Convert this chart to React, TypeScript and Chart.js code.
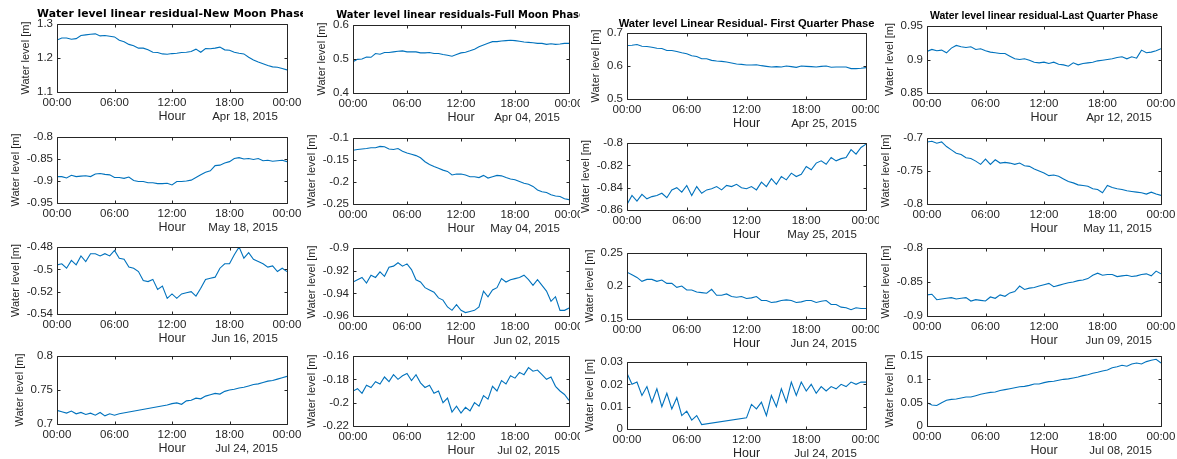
import React, { useEffect, useRef } from "react";
import { Chart, registerables } from "chart.js";
Chart.register(...registerables);

// ---------- data ----------
const HOURS = [0, 0.5, 1, 1.5, 2, 2.5, 3, 3.5, 4, 4.5, 5, 5.5, 6, 6.5, 7, 7.5, 8, 8.5, 9, 9.5, 10, 10.5, 11, 11.5, 12, 12.5, 13, 13.5, 14, 14.5, 15, 15.5, 16, 16.5, 17, 17.5, 18, 18.5, 19, 19.5, 20, 20.5, 21, 21.5, 22, 22.5, 23, 23.5, 24];

const NM_APR18 = [1.253, 1.259, 1.259, 1.255, 1.257, 1.266, 1.268, 1.27, 1.271, 1.265, 1.266, 1.264, 1.262, 1.252, 1.248, 1.24, 1.236, 1.229, 1.229, 1.224, 1.217, 1.216, 1.212, 1.211, 1.213, 1.214, 1.216, 1.217, 1.219, 1.226, 1.217, 1.228, 1.227, 1.229, 1.232, 1.224, 1.223, 1.217, 1.214, 1.212, 1.202, 1.194, 1.188, 1.183, 1.178, 1.174, 1.173, 1.169, 1.165];
const FM_APR04 = [0.492, 0.499, 0.5, 0.506, 0.505, 0.516, 0.514, 0.519, 0.519, 0.521, 0.523, 0.524, 0.521, 0.521, 0.521, 0.518, 0.518, 0.519, 0.516, 0.516, 0.513, 0.511, 0.508, 0.513, 0.518, 0.52, 0.524, 0.529, 0.536, 0.541, 0.546, 0.551, 0.551, 0.553, 0.554, 0.555, 0.554, 0.552, 0.55, 0.549, 0.548, 0.546, 0.546, 0.543, 0.545, 0.543, 0.544, 0.546, 0.546];
const FQ_APR25 = [0.662, 0.663, 0.665, 0.66, 0.659, 0.657, 0.654, 0.653, 0.647, 0.647, 0.644, 0.64, 0.637, 0.631, 0.629, 0.622, 0.622, 0.617, 0.615, 0.614, 0.612, 0.609, 0.606, 0.605, 0.603, 0.603, 0.604, 0.601, 0.599, 0.597, 0.598, 0.597, 0.6, 0.598, 0.596, 0.6, 0.599, 0.598, 0.597, 0.599, 0.6, 0.596, 0.597, 0.597, 0.597, 0.592, 0.592, 0.593, 0.595];
const LQ_APR12 = [0.912, 0.915, 0.913, 0.914, 0.91, 0.917, 0.921, 0.919, 0.918, 0.919, 0.915, 0.916, 0.913, 0.911, 0.91, 0.909, 0.909, 0.905, 0.901, 0.9, 0.901, 0.899, 0.896, 0.895, 0.896, 0.894, 0.896, 0.893, 0.892, 0.89, 0.895, 0.892, 0.894, 0.895, 0.896, 0.898, 0.899, 0.9, 0.901, 0.903, 0.904, 0.901, 0.904, 0.902, 0.914, 0.91, 0.911, 0.913, 0.916];

const NM_MAY18 = [-0.89, -0.89, -0.893, -0.887, -0.89, -0.889, -0.888, -0.89, -0.884, -0.883, -0.885, -0.886, -0.892, -0.892, -0.894, -0.891, -0.899, -0.901, -0.901, -0.904, -0.904, -0.906, -0.906, -0.905, -0.909, -0.901, -0.901, -0.9, -0.898, -0.892, -0.886, -0.88, -0.877, -0.865, -0.864, -0.859, -0.856, -0.849, -0.847, -0.85, -0.849, -0.851, -0.849, -0.854, -0.853, -0.855, -0.854, -0.853, -0.856];
const FM_MAY04 = [-0.128, -0.126, -0.125, -0.124, -0.122, -0.122, -0.119, -0.12, -0.125, -0.126, -0.124, -0.13, -0.134, -0.137, -0.14, -0.145, -0.154, -0.16, -0.165, -0.169, -0.173, -0.176, -0.184, -0.182, -0.182, -0.184, -0.188, -0.188, -0.19, -0.185, -0.191, -0.188, -0.185, -0.186, -0.19, -0.193, -0.195, -0.199, -0.203, -0.205, -0.21, -0.218, -0.222, -0.224, -0.229, -0.232, -0.233, -0.238, -0.24];
const FQ_MAY25 = [-0.855, -0.847, -0.852, -0.846, -0.85, -0.848, -0.847, -0.845, -0.849, -0.842, -0.84, -0.844, -0.838, -0.847, -0.839, -0.845, -0.842, -0.841, -0.839, -0.842, -0.838, -0.839, -0.837, -0.84, -0.841, -0.839, -0.842, -0.835, -0.839, -0.832, -0.837, -0.83, -0.833, -0.827, -0.83, -0.828, -0.821, -0.824, -0.818, -0.816, -0.819, -0.813, -0.816, -0.814, -0.813, -0.806, -0.81, -0.804, -0.801];
const LQ_MAY11 = [-0.706, -0.705, -0.708, -0.706, -0.713, -0.718, -0.723, -0.725, -0.73, -0.731, -0.735, -0.74, -0.732, -0.74, -0.733, -0.738, -0.737, -0.738, -0.74, -0.738, -0.742, -0.743, -0.747, -0.75, -0.753, -0.757, -0.756, -0.758, -0.762, -0.766, -0.768, -0.771, -0.772, -0.773, -0.777, -0.778, -0.783, -0.772, -0.775, -0.777, -0.778, -0.78, -0.781, -0.782, -0.783, -0.785, -0.782, -0.785, -0.787];

const NM_JUN16 = [-0.496, -0.495, -0.499, -0.492, -0.496, -0.488, -0.493, -0.486, -0.486, -0.488, -0.486, -0.488, -0.483, -0.49, -0.491, -0.498, -0.499, -0.502, -0.51, -0.511, -0.509, -0.518, -0.515, -0.526, -0.522, -0.526, -0.522, -0.521, -0.52, -0.524, -0.517, -0.509, -0.508, -0.507, -0.499, -0.495, -0.495, -0.487, -0.48, -0.49, -0.485, -0.491, -0.493, -0.495, -0.498, -0.497, -0.502, -0.499, -0.502];
const FM_JUN02 = [-0.93, -0.928, -0.926, -0.931, -0.924, -0.926, -0.921, -0.925, -0.917, -0.916, -0.913, -0.916, -0.914, -0.919, -0.928, -0.93, -0.935, -0.937, -0.939, -0.944, -0.946, -0.952, -0.955, -0.95, -0.955, -0.957, -0.956, -0.955, -0.952, -0.938, -0.943, -0.937, -0.935, -0.927, -0.93, -0.928, -0.927, -0.926, -0.924, -0.928, -0.933, -0.928, -0.933, -0.938, -0.947, -0.943, -0.955, -0.955, -0.953];
const FQ_JUN24 = [0.221, 0.217, 0.213, 0.207, 0.21, 0.21, 0.207, 0.209, 0.204, 0.204, 0.198, 0.2, 0.194, 0.194, 0.191, 0.19, 0.189, 0.195, 0.186, 0.186, 0.188, 0.184, 0.183, 0.184, 0.181, 0.182, 0.184, 0.178, 0.178, 0.175, 0.176, 0.178, 0.179, 0.178, 0.175, 0.176, 0.178, 0.178, 0.175, 0.177, 0.178, 0.172, 0.172, 0.168, 0.167, 0.164, 0.167, 0.166, 0.166];
const LQ_JUN09 = [-0.869, -0.868, -0.876, -0.875, -0.874, -0.873, -0.875, -0.874, -0.873, -0.878, -0.876, -0.877, -0.878, -0.872, -0.874, -0.869, -0.871, -0.866, -0.864, -0.856, -0.861, -0.859, -0.858, -0.856, -0.854, -0.852, -0.857, -0.855, -0.853, -0.851, -0.85, -0.848, -0.847, -0.845, -0.84, -0.837, -0.84, -0.839, -0.839, -0.842, -0.841, -0.84, -0.842, -0.841, -0.839, -0.838, -0.841, -0.834, -0.838];

const NM_JUL24 = [0.72, 0.718, 0.716, 0.719, 0.715, 0.717, 0.714, 0.716, 0.713, 0.717, 0.712, 0.715, 0.713, 0.715, null, null, null, null, null, null, null, null, null, 0.728, 0.73, 0.731, 0.729, 0.734, 0.735, 0.738, 0.737, 0.741, 0.743, 0.745, 0.744, 0.748, 0.75, 0.751, 0.753, 0.754, 0.756, 0.758, 0.759, 0.761, 0.763, 0.764, 0.766, 0.768, 0.77];
const FM_JUL02 = [-0.19, -0.188, -0.192, -0.185, -0.187, -0.182, -0.184, -0.178, -0.182, -0.176, -0.18, -0.177, -0.175, -0.181, -0.176, -0.183, -0.187, -0.185, -0.192, -0.19, -0.2, -0.196, -0.208, -0.203, -0.209, -0.204, -0.207, -0.2, -0.203, -0.194, -0.197, -0.186, -0.19, -0.181, -0.184, -0.177, -0.179, -0.174, -0.176, -0.17, -0.173, -0.172, -0.176, -0.18, -0.178, -0.186, -0.19, -0.193, -0.198];
const FQ_JUL24 = [0.025, 0.02, 0.021, 0.015, 0.019, 0.012, 0.018, 0.01, 0.016, 0.009, 0.014, 0.006, 0.008, 0.004, 0.006, 0.002, null, null, null, null, null, null, null, null, 0.005, 0.011, 0.009, 0.012, 0.006, 0.015, 0.01, 0.018, 0.012, 0.021, 0.015, 0.021, 0.017, 0.02, 0.016, 0.019, 0.017, 0.019, 0.018, 0.02, 0.019, 0.021, 0.02, 0.021, 0.021];
const LQ_JUL08 = [0.05, 0.045, 0.044, 0.05, 0.055, 0.057, 0.058, 0.06, 0.062, 0.062, 0.065, 0.068, 0.07, 0.072, 0.073, 0.076, 0.078, 0.08, 0.082, 0.084, 0.085, 0.087, 0.09, 0.09, 0.093, 0.095, 0.096, 0.098, 0.1, 0.101, 0.103, 0.105, 0.108, 0.11, 0.113, 0.115, 0.118, 0.12, 0.125, 0.127, 0.13, 0.128, 0.133, 0.135, 0.133, 0.138, 0.141, 0.143, 0.135];

const SERIES = [
  NM_APR18, FM_APR04, FQ_APR25, LQ_APR12,
  NM_MAY18, FM_MAY04, FQ_MAY25, LQ_MAY11,
  NM_JUN16, FM_JUN02, FQ_JUN24, LQ_JUN09,
  NM_JUL24, FM_JUL02, FQ_JUL24, LQ_JUL08,
];
const DATES = [
  "Apr 18, 2015", "Apr 04, 2015", "Apr 25, 2015", "Apr 12, 2015",
  "May 18, 2015", "May 04, 2015", "May 25, 2015", "May 11, 2015",
  "Jun 16, 2015", "Jun 02, 2015", "Jun 24, 2015", "Jun 09, 2015",
  "Jul 24, 2015", "Jul 02, 2015", "Jul 24, 2015", "Jul 08, 2015",
];
const TITLES = [
  "Water level linear residual-New Moon Phase",
  "Water level linear residuals-Full Moon Phase",
  "Water level Linear Residual- First Quarter Phase",
  "Water level linear residual-Last Quarter Phase",
];
const Y_MIN = [1.1, 0.4, 0.5, 0.85, -0.95, -0.25, -0.86, -0.8, -0.54, -0.96, 0.15, -0.9, 0.7, -0.22, 0, 0];
const Y_MAX = [1.3, 0.6, 0.7, 0.95, -0.8, -0.1, -0.8, -0.7, -0.48, -0.9, 0.25, -0.8, 0.8, -0.16, 0.03, 0.15];
const Y_STEP = [0.1, 0.1, 0.1, 0.05, 0.05, 0.05, 0.02, 0.05, 0.02, 0.02, 0.05, 0.05, 0.05, 0.02, 0.01, 0.05];
const X_TICKS = [0, 6, 12, 18, 24];
const X_LABEL = "Hour";
const Y_LABEL = "Water level [m]";

// ---------- layout / style ----------
const COL_LEFT = [0, 303, 580, 879];
const COL_RIGHT = [303, 580, 879, 1177];
const PLOT_L = [57, 353, 627, 927];
const PLOT_R = [287, 569, 866, 1161];
const PLOT_T = [[24, 25, 33, 26], [137, 138, 143, 138], [247, 248, 253, 248], [356, 356, 362, 356]];
const PLOT_B = [[92, 93, 99, 93], [203, 204, 210, 204], [314, 316, 319, 316], [424, 426, 429, 426]];
const TITLE_W = [270, 250, 256, 228];
const TITLE_FONT = ['"DejaVu Sans"', '"DejaVu Sans"', '"Liberation Sans"', '"Liberation Sans"'];
const FONT = '"Liberation Sans", Arial, sans-serif';
const AXIS_COLOR = "#262626";
const LINE_COLOR = "#0072BD";
const TICK_SIZE = 11.5;
const TICK_LEN = 3;
const PAD_TOP = 30;
const PAD_RIGHT = 30;
const XAXIS_H = 45;

const fmt = (v: number) => String(Math.round(Number(v) * 1000) / 1000);
const fmtHour = (v: number) => String(Math.round(Number(v)) % 24).padStart(2, "0") + ":00";

function makeDecor(idx: number) {
  const row = Math.floor(idx / 4);
  const col = idx % 4;
  return {
    id: "decor" + idx,
    afterDraw(chart: any) {
      const { ctx, chartArea: a } = chart;
      const xs = chart.scales.x;
      const ys = chart.scales.y;
      ctx.save();
      ctx.strokeStyle = AXIS_COLOR;
      ctx.lineWidth = 1;
      const l = Math.round(a.left) + 0.5;
      const r = Math.round(a.right) + 0.5;
      const t = Math.round(a.top) + 0.5;
      const b = Math.round(a.bottom) + 0.5;
      ctx.beginPath();
      ctx.rect(l, t, r - l, b - t);
      for (const v of X_TICKS) {
        const px = Math.round(xs.getPixelForValue(v)) + 0.5;
        ctx.moveTo(px, b); ctx.lineTo(px, b - TICK_LEN);
        ctx.moveTo(px, t); ctx.lineTo(px, t + TICK_LEN);
      }
      for (const tk of ys.ticks) {
        const py = Math.round(ys.getPixelForValue(tk.value)) + 0.5;
        ctx.moveTo(l, py); ctx.lineTo(l + TICK_LEN, py);
        ctx.moveTo(r, py); ctx.lineTo(r - TICK_LEN, py);
      }
      ctx.stroke();

      ctx.fillStyle = AXIS_COLOR;
      ctx.font = `${TICK_SIZE}px ${FONT}`;
      let maxW = 0;
      for (const tk of ys.ticks) maxW = Math.max(maxW, ctx.measureText(String(tk.label)).width);
      const ylx = a.left - 4 - maxW - 11;
      ctx.save();
      ctx.translate(ylx, (a.top + a.bottom) / 2);
      ctx.rotate(-Math.PI / 2);
      ctx.font = `11px ${FONT}`;
      ctx.textAlign = "center";
      ctx.textBaseline = "middle";
      ctx.fillText(Y_LABEL, 0, 0);
      ctx.restore();

      ctx.textBaseline = "middle";
      ctx.font = `12.5px ${FONT}`;
      ctx.textAlign = "center";
      ctx.fillText(X_LABEL, (a.left + a.right) / 2, a.bottom + 25);
      ctx.font = `11.5px ${FONT}`;
      ctx.textAlign = "right";
      ctx.fillText(DATES[idx], a.right - 9, a.bottom + 25);

      if (row === 0) {
        ctx.font = `bold 100px ${TITLE_FONT[col]}`;
        const w100 = ctx.measureText(TITLES[col]).width;
        const size = (100 * TITLE_W[col]) / w100;
        ctx.font = `bold ${size.toFixed(2)}px ${TITLE_FONT[col]}`;
        ctx.textAlign = "center";
        ctx.fillStyle = "#000000";
        ctx.fillText(TITLES[col], (a.left + a.right) / 2, a.top - 9.5);
      }
      ctx.restore();
    },
  };
}

function Panel({ idx }: { idx: number }) {
  const ref = useRef<HTMLCanvasElement>(null);
  const row = Math.floor(idx / 4);
  const col = idx % 4;
  const T = PLOT_T[row][col];
  const B = PLOT_B[row][col];
  const yAxisW = PLOT_L[col] - COL_LEFT[col];
  const cw = PLOT_R[col] - COL_LEFT[col] + PAD_RIGHT;
  const ch = B - T + PAD_TOP + XAXIS_H;
  const top = T - PAD_TOP;

  useEffect(() => {
    if (!ref.current) return;
    const chart = new Chart(ref.current, {
      type: "line",
      data: {
        labels: HOURS,
        datasets: [
          {
            data: HOURS.map((h, i) => ({ x: h, y: SERIES[idx][i] })) as any,
            borderColor: LINE_COLOR,
            borderWidth: 1.1,
            pointRadius: 0,
            tension: 0,
            spanGaps: true,
            fill: false,
          },
        ],
      },
      options: {
        animation: false,
        responsive: false,
        events: [],
        layout: { autoPadding: false, padding: { left: 0, right: PAD_RIGHT, top: PAD_TOP, bottom: 0 } },
        plugins: { legend: { display: false }, tooltip: { enabled: false }, title: { display: false } },
        scales: {
          x: {
            type: "linear",
            min: 0,
            max: 24,
            grid: { display: false, drawTicks: false },
            border: { display: false },
            ticks: {
              stepSize: 6,
              autoSkip: false,
              maxRotation: 0,
              padding: 4,
              color: AXIS_COLOR,
              font: { family: FONT, size: TICK_SIZE },
              callback: (v: any) => fmtHour(Number(v)),
            },
            afterFit: (s: any) => { s.height = XAXIS_H; },
          },
          y: {
            type: "linear",
            min: Y_MIN[idx],
            max: Y_MAX[idx],
            grid: { display: false, drawTicks: false },
            border: { display: false },
            ticks: {
              stepSize: Y_STEP[idx],
              autoSkip: false,
              padding: 4,
              color: AXIS_COLOR,
              font: { family: FONT, size: TICK_SIZE },
              callback: (v: any) => fmt(Number(v)),
            },
            afterFit: (s: any) => { s.width = yAxisW; },
          },
        },
      },
      plugins: [makeDecor(idx)],
    } as any);
    return () => chart.destroy();
  }, [idx]);

  return (
    <canvas
      ref={ref}
      width={cw}
      height={ch}
      style={{ position: "absolute", left: 0, top, width: cw, height: ch }}
    />
  );
}

export default function App() {
  return (
    <div style={{ position: "absolute", left: 0, top: 0, width: 1177, height: 459, background: "#ffffff", overflow: "hidden" }}>
      {[0, 1, 2, 3].map((col) => (
        <div
          key={col}
          style={{
            position: "absolute",
            left: COL_LEFT[col],
            top: 0,
            width: COL_RIGHT[col] - COL_LEFT[col],
            height: 459,
            overflow: "hidden",
          }}
        >
          {[0, 1, 2, 3].map((row) => (
            <Panel key={row} idx={row * 4 + col} />
          ))}
        </div>
      ))}
    </div>
  );
}
